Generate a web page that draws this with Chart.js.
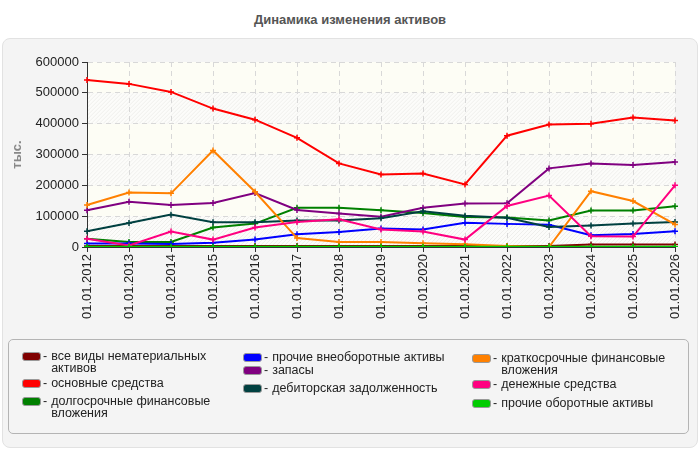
<!DOCTYPE html>
<html>
<head>
<meta charset="utf-8">
<script src="https://cdn.jsdelivr.net/npm/chart.js"></script>
<style>
  body { margin: 0; background: #fff; font-family: "Liberation Sans", Arial, sans-serif; }
  #wrap { position: relative; width: 700px; height: 450px; }
  #title { position: absolute; left: 0; top: 12px; width: 700px; text-align: center;
           font-weight: bold; font-size: 13px; color: #555; }
  #panel { position: absolute; left: 2px; top: 38px; width: 694px; height: 408px;
           background: #f4f4f4; border: 1px solid #e2e2e2; border-radius: 8px; }
  #chart { position: absolute; left: 0; top: 0; }
  #legend { position: absolute; left: 8px; top: 339px; width: 679px; height: 93px;
            border: 1px solid #b4b4b4; border-radius: 5px; }
  .item { position: absolute; display: flex; align-items: flex-start; font-size: 12.5px;
          line-height: 12px; color: #222; }
  .sw { width: 17px; height: 7px; border: 1px solid #999; border-radius: 3px; margin-top: 2px; margin-right: 2px; }
  .dash { margin-right: 4px; }
</style>
</head>
<body>
<div id="wrap">
  <div id="title">Динамика изменения активов</div>
  <div id="panel"></div>
  <canvas id="chart" width="700" height="450"></canvas>
  <div id="legend"></div>
</div>
<script>
// dates
var labels = ["01.01.2012", "01.01.2013", "01.01.2014", "01.01.2015", "01.01.2016",
  "01.01.2017", "01.01.2018", "01.01.2019", "01.01.2020", "01.01.2021",
  "01.01.2022", "01.01.2023", "01.01.2024", "01.01.2025", "01.01.2026"];

// series, thousands
var intangible = [3000, 3000, 3000, 3000, 3000, 3000, 3000, 3000, 3000, 3000, 3000, 3000, 8000, 8000, 8000];
var fixedAssets = [542000, 529000, 503000, 449000, 413000, 354000, 271000, 235000, 238000, 203000, 361000, 397000, 400000, 420000, 410000];
var longInvest = [27000, 16000, 16000, 63000, 76000, 127000, 127000, 119000, 110000, 97000, 96000, 86000, 118000, 118000, 132000];
var otherNonCurrent = [11000, 11000, 10000, 14000, 24000, 41000, 49000, 60000, 57000, 79000, 75000, 72000, 38000, 42000, 51000];
var stocks = [119000, 147000, 136000, 143000, 175000, 120000, 109000, 98000, 127000, 141000, 142000, 255000, 271000, 266000, 276000];
var receivables = [51000, 78000, 105000, 80000, 80000, 86000, 86000, 93000, 116000, 101000, 95000, 65000, 70000, 76000, 81000];
var shortInvest = [136000, 177000, 174000, 313000, 179000, 29000, 16000, 16000, 12000, 9000, 3000, 0, 181000, 149000, 73000];
var cash = [27000, 5000, 50000, 24000, 63000, 81000, 90000, 57000, 50000, 24000, 133000, 167000, 35000, 34000, 200000];
var otherCurrent = [1000, 1000, 1000, 1000, 1000, 1000, 1000, 1000, 1000, 1000, 1000, 1000, 1000, 1000, 1000];

var yTicks = [0, 100000, 200000, 300000, 400000, 500000, 600000];

var series = [
  { name: "все виды нематериальных активов", color: "#800000", data: intangible },
  { name: "основные средства", color: "#ff0000", data: fixedAssets },
  { name: "долгосрочные финансовые вложения", color: "#008000", data: longInvest },
  { name: "прочие внеоборотные активы", color: "#0000ff", data: otherNonCurrent },
  { name: "запасы", color: "#800080", data: stocks },
  { name: "дебиторская задолженность", color: "#004040", data: receivables },
  { name: "краткосрочные финансовые вложения", color: "#ff8000", data: shortInvest },
  { name: "денежные средства", color: "#ff0080", data: cash },
  { name: "прочие оборотные активы", color: "#00cc00", data: otherCurrent }
];

// legend placement (left, top) per item, three columns
var legendPos = [[13, 10], [13, 37], [13, 55], [234, 11], [234, 24], [234, 42], [463, 12], [463, 38], [463, 57]];

var legend = document.getElementById('legend');
series.forEach(function(s, i) {
  var el = document.createElement('div');
  el.className = 'item';
  el.style.left = legendPos[i][0] + 'px';
  el.style.top = legendPos[i][1] + 'px';
  el.innerHTML = '<div class="sw" style="background:' + s.color + '"></div>' +
    '<span class="dash">-</span><span style="width:175px">' + s.name + '</span>';
  legend.appendChild(el);
});

// striped plot background
var bands = {
  id: 'bands',
  beforeDraw: function(chart) {
    var ctx = chart.ctx, area = chart.chartArea, y = chart.scales.y;
    ctx.save();
    for (var i = 0; i < yTicks.length - 1; i++) {
      var top = y.getPixelForValue(yTicks[i + 1]);
      var bottom = y.getPixelForValue(yTicks[i]);
      ctx.fillStyle = i % 2 === 0 ? '#fcfcfa' : '#fdfdf5';
      ctx.fillRect(area.left, top, area.right - area.left, bottom - top);
      if (i % 2 === 0) {
        ctx.save();
        ctx.beginPath();
        ctx.rect(area.left, top, area.right - area.left, bottom - top);
        ctx.clip();
        ctx.strokeStyle = '#efefec';
        ctx.lineWidth = 1;
        ctx.beginPath();
        for (var x = area.left - 40; x < area.right + 40; x += 4) {
          ctx.moveTo(x, bottom);
          ctx.lineTo(x + (bottom - top), top);
        }
        ctx.stroke();
        ctx.restore();
      }
    }
    ctx.restore();
  }
};

new Chart("chart", {
  type: "line",
  data: {
    labels: labels,
    datasets: series.map(function(s, i) {
      return {
        label: s.name,
        data: s.data,
        borderColor: s.color,
        backgroundColor: s.color,
        borderWidth: 2,
        pointStyle: 'cross',
        pointRadius: 3,
        pointBorderWidth: 1.5,
        tension: 0,
        order: series.length - i
      };
    })
  },
  options: {
    responsive: false,
    animation: false,
    layout: { padding: { left: 0, right: 25, top: 62, bottom: 118 } },
    plugins: { legend: { display: false }, tooltip: { enabled: false } },
    scales: {
      x: {
        offset: false,
        afterFit: function(scale) { scale.height = 85; },
        grid: { color: '#d8d8d8', tickColor: '#333', tickLength: 5 },
        border: { color: '#333', width: 1, dash: [5, 4] },
        ticks: { color: '#222', font: { family: 'Liberation Sans', size: 13 },
                 minRotation: 90, maxRotation: 90, autoSkip: false, padding: 2 }
      },
      y: {
        min: 0, max: 600000,
        afterFit: function(scale) { scale.width = 87; },
        grid: { color: '#d8d8d8', tickColor: '#333', tickLength: 5 },
        border: { color: '#333', width: 1, dash: [5, 4] },
        ticks: { stepSize: 100000, color: '#222', font: { family: 'Liberation Sans', size: 13 },
                 padding: 3, callback: function(v) { return String(v); } },
        title: { display: true, text: 'тыс.', color: '#888',
                 font: { family: 'Liberation Sans', size: 13, weight: 'bold' }, padding: { top: 10 } }
      }
    }
  },
  plugins: [bands]
});
</script>
</body>
</html>
